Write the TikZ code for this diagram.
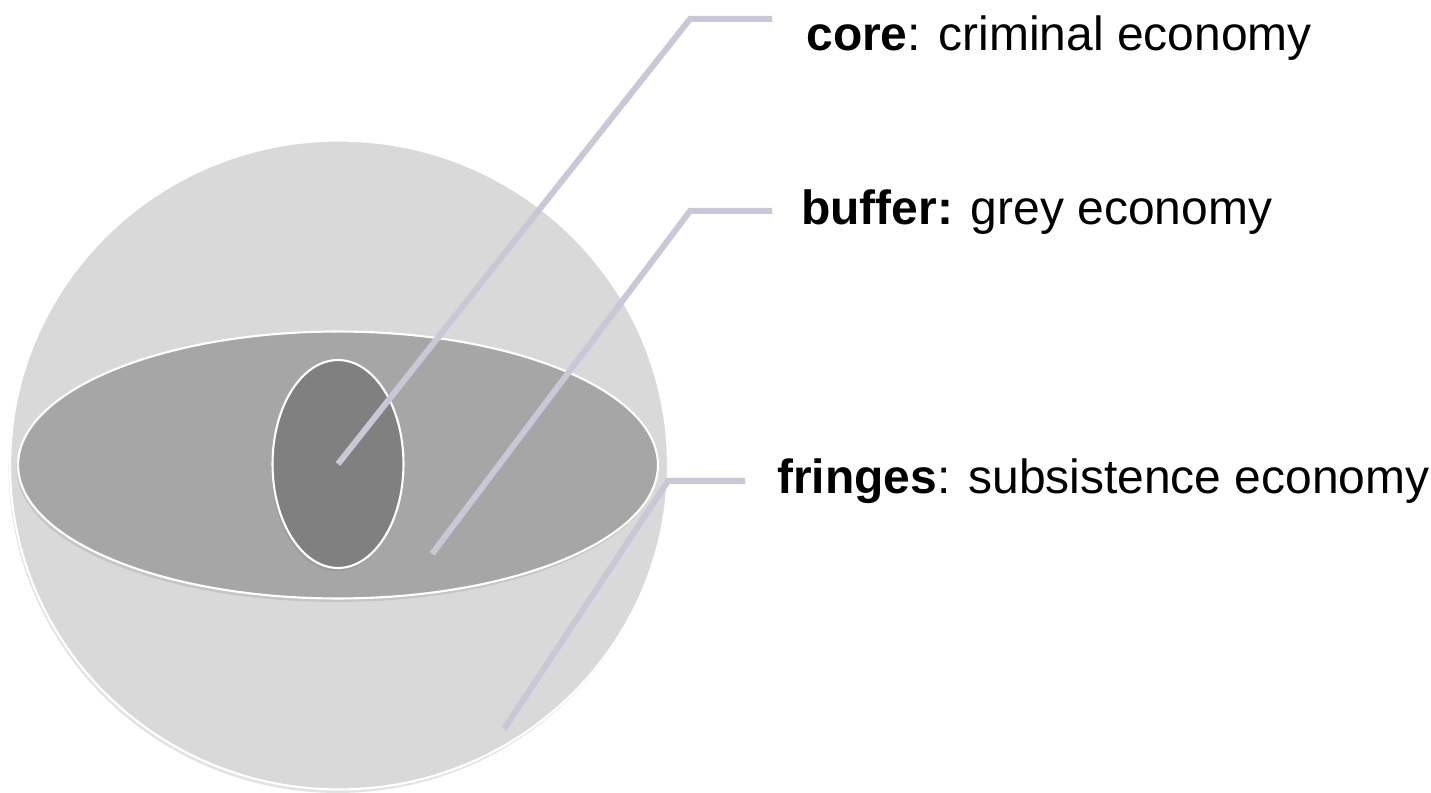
\documentclass[tikz,border=0pt]{standalone}
\usepackage{fontspec}
\setmainfont{Liberation Sans}
\usetikzlibrary{shapes.geometric,shadows}

\definecolor{fringegrey}{RGB}{217,217,217}
\definecolor{buffergrey}{RGB}{166,166,166}
\definecolor{coregrey}{RGB}{128,128,128}
\definecolor{leadergrey}{RGB}{200,200,214}

\tikzset{
	layerpicture/.style = {
		x = 0.02cm,
		y = -0.02cm,
		leader/.style = {
			draw = leadergrey,
			line width = 0.12cm,
			preaction = {
				draw = black,
				opacity = 0.15,
				transform canvas = {shift = {(0.6pt,-1pt)}}
			}
		}
	},
	layer/.style = {
		ellipse,
		draw = white,
		line width = 1.2pt,
		inner sep = 0pt,
		drop shadow = {shadow xshift = -0.8pt, shadow yshift = -2pt, opacity = 0.22}
	},
	layertext/.style = {
		anchor = base west,
		inner sep = 0pt,
		font = \fontsize{27.3}{33}\selectfont
	}
}

\begin{document}
\begin{tikzpicture}[layerpicture]
	\useasboundingbox (0,0) rectangle (1431,793);

	% nested layers
	\node[layer, fill = fringegrey, minimum width = 13.16cm, minimum height = 12.98cm] (fringes) at (339,465) {};
	\node[layer, fill = buffergrey, minimum width = 12.8cm, minimum height = 5.34cm] (buffer) at (338,465) {};
	\node[layer, fill = coregrey, minimum width = 2.62cm, minimum height = 4.16cm] (core) at (338,464) {};

	% labels
	\node[layertext] (core label) at (806,51) {\textbf{core}: criminal economy};
	\node[layertext] (buffer label) at (801,225) {\textbf{buffer:} grey economy};
	\node[layertext] (fringes label) at (777,494) {\textbf{fringes}: subsistence economy};

	\coordinate (core bend) at (690,19);
	\coordinate (core end) at (772,19);
	\coordinate (buffer tip) at (432,554);
	\coordinate (buffer bend) at (690,211);
	\coordinate (buffer end) at (772,211);
	\coordinate (fringes tip) at (504,729);
	\coordinate (fringes bend) at (668,481);
	\coordinate (fringes end) at (745,481);

	\path[leader] (core.center) -- (core bend) -- (core end);
	\path[leader] (buffer tip) -- (buffer bend) -- (buffer end);
	\path[leader] (fringes tip) -- (fringes bend) -- (fringes end);
\end{tikzpicture}
\end{document}
